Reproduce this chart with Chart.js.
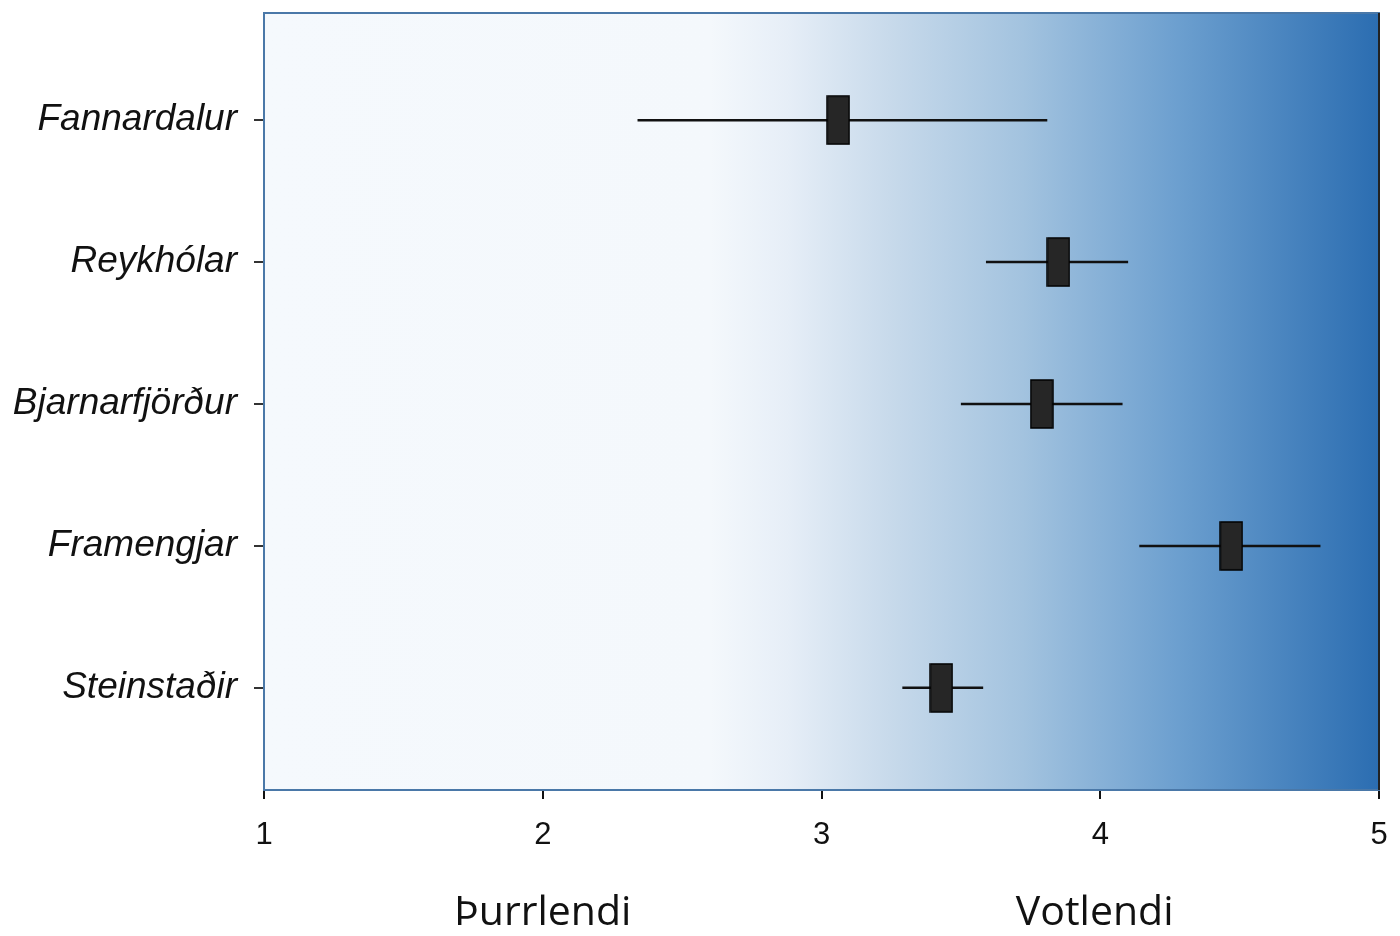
<!DOCTYPE html>
<html><head><meta charset="utf-8">
<script src="https://cdn.jsdelivr.net/npm/chart.js@4.4.1/dist/chart.umd.min.js"></script>
<style>html,body{margin:0;padding:0;background:#fff}#wrap{width:1400px;height:936px}</style>
</head><body><div id="wrap"><canvas id="c" width="1400" height="936"></canvas></div>
<script>
const sites = ['Fannardalur','Reykhólar','Bjarnarfjörður','Framengjar','Steinstaðir'];
const means = [3.06, 3.85, 3.79, 4.47, 3.43];
const lower = [2.34, 3.59, 3.50, 4.14, 3.29];
const upper = [3.81, 4.10, 4.08, 4.79, 3.58];
const xTicks = [1, 2, 3, 4, 5];
const endLabels = ['Þurrlendi', 'Votlendi'];

// box marker as point style
const box = document.createElement('canvas');
box.width = 24; box.height = 50;
(function(){const g=box.getContext('2d');g.fillStyle='#262626';g.fillRect(1,1,22,48);g.strokeStyle='#000';g.lineWidth=1.5;g.strokeRect(1,1,22,48);})();

const datasets = [];
sites.forEach((s,i)=>{
  datasets.push({type:'line', data:[{x:lower[i],y:i+1},{x:upper[i],y:i+1}], borderColor:'#111', borderWidth:2.5, pointRadius:0, showLine:true, order:2});
});
datasets.push({type:'scatter', data:means.map((m,i)=>({x:m,y:i+1})), pointStyle:box, pointRadius:12, order:1});

const bgPlugin = {
  id:'bg',
  beforeDraw(chart){
    const {ctx, chartArea:a} = chart;
    const g = ctx.createLinearGradient(a.left,0,a.right,0);
    g.addColorStop(0,'#f5f9fd');
    g.addColorStop(0.40,'#f4f8fc');
    g.addColorStop(0.47,'#e6eef7');
    g.addColorStop(0.56,'#c8daeb');
    g.addColorStop(0.68,'#a3c3df');
    g.addColorStop(0.82,'#6c9fcf');
    g.addColorStop(1,'#2b6db1');
    ctx.save(); ctx.fillStyle=g; ctx.fillRect(a.left,a.top,a.right-a.left,a.bottom-a.top); ctx.restore();
  },
  afterDraw(chart){
    const {ctx, chartArea:a, scales} = chart;
    ctx.save();
    ctx.strokeStyle='#4a78a8'; ctx.lineWidth=2;
    ctx.strokeRect(a.left,a.top,a.right-a.left,a.bottom-a.top);
    ctx.strokeStyle='#222'; ctx.beginPath(); ctx.moveTo(a.right,a.top); ctx.lineTo(a.right,a.bottom); ctx.stroke();
    ctx.fillStyle='#111'; ctx.font='41px "Open Sans"'; ctx.textAlign='center'; ctx.textBaseline='middle';
    const pos=[2,3.98];
    endLabels.forEach((t,i)=>ctx.fillText(t, scales.x.getPixelForValue(pos[i]), 913));
    ctx.restore();
  }
};

new Chart(document.getElementById('c'), {
  data:{datasets},
  options:{
    responsive:false, animation:false,
    layout:{padding:{top:13,right:21,left:0,bottom:0}},
    plugins:{legend:{display:false},tooltip:{enabled:false}},
    scales:{
      x:{type:'linear', min:1, max:5,
        afterBuildTicks(s){s.ticks=xTicks.map(v=>({value:v}));},
        afterFit(s){s.height=146; s.paddingLeft=0; s.paddingRight=0;},
        grid:{drawOnChartArea:false, drawTicks:true, tickLength:9, color:'#111', lineWidth:2},
        border:{display:false},
        ticks:{color:'#111', font:{family:'Liberation Sans', size:31}, padding:18, maxRotation:0}
      },
      y:{type:'linear', min:0.245, max:5.72, reverse:true,
        afterBuildTicks(s){s.ticks=sites.map((n,i)=>({value:i+1}));},
        afterFit(s){s.width=264; s.paddingTop=0; s.paddingBottom=0;},
        grid:{drawOnChartArea:false, drawTicks:true, tickLength:10, color:'#333', lineWidth:2},
        border:{display:false},
        ticks:{color:'#111', font:{family:'Liberation Sans', size:37, style:'italic'}, padding:17,
          callback:(v)=>sites[Math.round(v)-1]}
      }
    }
  },
  plugins:[bgPlugin]
});
</script></body></html>
